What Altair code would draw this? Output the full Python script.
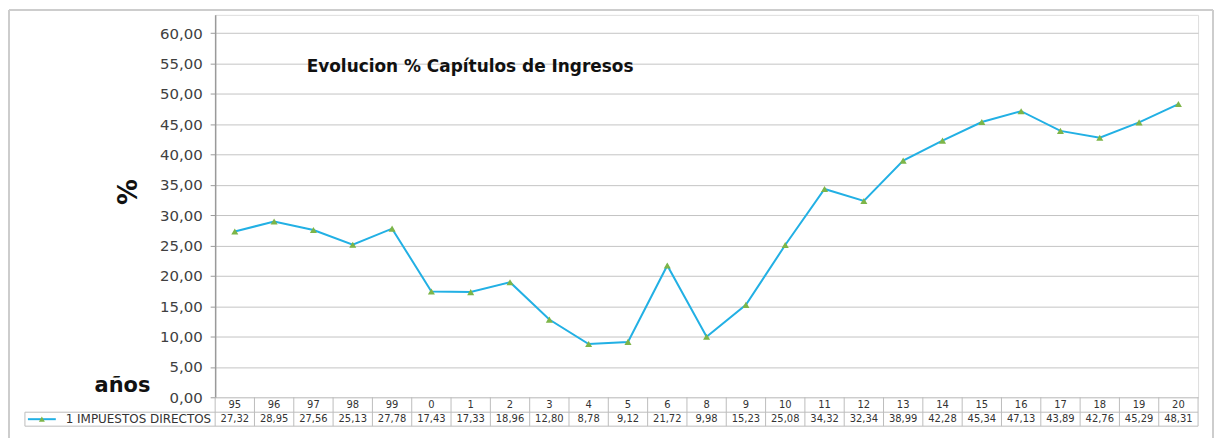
import altair as alt
import pandas as pd

# ---- data ----
years = ["95", "96", "97", "98", "99", "0", "1", "2", "3", "4", "5", "6", "8",
         "9", "10", "11", "12", "13", "14", "15", "16", "17", "18", "19", "20"]
values = [27.32, 28.95, 27.56, 25.13, 27.78, 17.43, 17.33, 18.96, 12.80, 8.78,
          9.12, 21.72, 9.98, 15.23, 25.08, 34.32, 32.34, 38.99, 42.28, 45.34,
          47.13, 43.89, 42.76, 45.29, 48.31]
series_name = "1 IMPUESTOS DIRECTOS"
chart_title = "Evolucion % Capítulos de Ingresos"
y_title = "%"
x_title = "años"
y_ticks = [0, 5, 10, 15, 20, 25, 30, 35, 40, 45, 50, 55, 60]

# ---- styling ----
W, H = 987, 384
LINE = "#22b0e4"
MARK = "#7db548"
GRID = "#c4c4c4"
TABLE = "#bcbcbc"
TXT = "#333333"
FONT = "DejaVu Sans"

df = pd.DataFrame({"year": years, "value": values})
one = alt.Data(values=[{}])

xscale = alt.Scale(type="band", paddingInner=0, paddingOuter=0)


def xenc(bp):
    return alt.X("year:N", sort=years, scale=xscale, axis=None, bandPosition=bp)


yenc = alt.Y(
    "value:Q",
    scale=alt.Scale(domain=[0, 63], nice=False, zero=True),
    axis=alt.Axis(
        values=y_ticks,
        labelExpr="replace(format(datum.value, '.2f'), '.', ',')",
        title=None,
        grid=True,
        gridColor=GRID,
        gridWidth=1,
        domainColor="#9a9a9a",
        domainWidth=1.5,
        tickColor="#9a9a9a",
        tickSize=5,
        labelFont=FONT,
        labelFontSize=15,
        labelColor="#404040",
        labelPadding=8,
    ),
)

line = alt.Chart(df).mark_line(color=LINE, strokeWidth=2).encode(x=xenc(0.5), y=yenc)
pts = alt.Chart(df).mark_point(shape="triangle-up", filled=True, size=50,
                               color=MARK, opacity=1).encode(x=xenc(0.5), y=yenc)

# ---- data table below the plot ----
vlines = alt.Chart(df).mark_rule(color=TABLE, strokeWidth=1).encode(
    x=xenc(0), y=alt.value(H), y2=alt.value(H + 29))
vlast = alt.Chart(one).mark_rule(color=TABLE, strokeWidth=1).encode(
    x=alt.value(W), y=alt.value(H), y2=alt.value(H + 29))
vleft = alt.Chart(one).mark_rule(color=TABLE, strokeWidth=1).encode(
    x=alt.value(-191), y=alt.value(H + 15), y2=alt.value(H + 29))
hmid = alt.Chart(one).mark_rule(color=TABLE, strokeWidth=1).encode(
    x=alt.value(-191), x2=alt.value(W), y=alt.value(H + 15))
hbot = alt.Chart(one).mark_rule(color=TABLE, strokeWidth=1).encode(
    x=alt.value(-191), x2=alt.value(W), y=alt.value(H + 29))

head = alt.Chart(df).mark_text(font=FONT, fontSize=10, color=TXT, baseline="middle").encode(
    x=xenc(0.5), y=alt.value(H + 8), text="year:N")
vals = alt.Chart(df).transform_calculate(
    lab="replace(format(datum.value, '.2f'), '.', ',')"
).mark_text(font=FONT, fontSize=10, color=TXT, baseline="middle").encode(
    x=xenc(0.5), y=alt.value(H + 22), text="lab:N")

leg_line = alt.Chart(one).mark_rule(color=LINE, strokeWidth=2).encode(
    x=alt.value(-188), x2=alt.value(-160), y=alt.value(H + 22))
leg_pt = alt.Chart(one).mark_point(shape="triangle-up", filled=True, size=36,
                                   color=MARK, opacity=1).encode(
    x=alt.value(-174), y=alt.value(H + 22))
leg_txt = alt.Chart(one).mark_text(font=FONT, fontSize=12, color=TXT, align="right",
                                   baseline="middle", text=series_name).encode(
    x=alt.value(-4), y=alt.value(H + 22))

# ---- titles ----
title = alt.Chart(one).mark_text(font=FONT, fontSize=17, fontWeight="bold", color="#111111",
                                 align="center", baseline="middle", text=chart_title).encode(
    x=alt.value(256), y=alt.value(52))
ytitle = alt.Chart(one).mark_text(font=FONT, fontSize=26, fontWeight="bold", color="#111111",
                                  align="center", baseline="middle", angle=270,
                                  text=y_title).encode(
    x=alt.value(-86), y=alt.value(178))
xtitle = alt.Chart(one).mark_text(font=FONT, fontSize=21, fontWeight="bold", color="#111111",
                                  align="center", baseline="alphabetic", text=x_title).encode(
    x=alt.value(-93), y=alt.value(379))

# ---- outer frame ----
FR = "#cdcdcd"
f_top = alt.Chart(one).mark_rule(color=FR, strokeWidth=2).encode(
    x=alt.value(-207), x2=alt.value(1002), y=alt.value(-5))
f_left = alt.Chart(one).mark_rule(color=FR, strokeWidth=2).encode(
    x=alt.value(-207), y=alt.value(-5), y2=alt.value(H + 60))
f_right = alt.Chart(one).mark_rule(color=FR, strokeWidth=2).encode(
    x=alt.value(1002), y=alt.value(-5), y2=alt.value(H + 60))

chart = alt.layer(
    f_top, f_left, f_right,
    vlines, vlast, vleft, hmid, hbot,
    line, pts, head, vals, leg_line, leg_pt, leg_txt,
    title, ytitle, xtitle,
).properties(
    width=W, height=H,
    autosize=alt.AutoSizeParams(type="none"),
    padding={"left": 208, "top": 6, "right": 16, "bottom": 40},
).configure_view(stroke="#a6a6a6", strokeWidth=1.5).configure(background="white")

chart.save("out.html", embed_options={"renderer": "svg", "actions": False})
